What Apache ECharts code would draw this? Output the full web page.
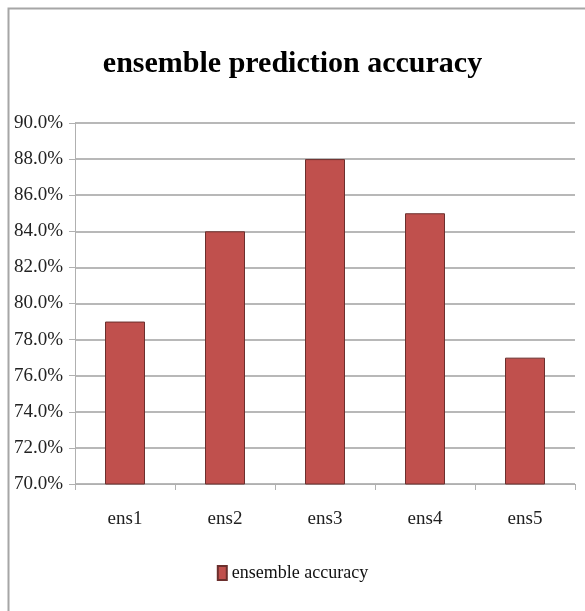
<!DOCTYPE html>
<html>
<head>
<meta charset="utf-8">
<script src="https://cdn.jsdelivr.net/npm/echarts@6/dist/echarts.min.js"></script>
<style>
html, body { margin: 0; padding: 0; background: #fff; }
#main { width: 585px; height: 611px; }
</style>
</head>
<body>
<div id="main"></div>
<script>
var categories = ["ens1", "ens2", "ens3", "ens4", "ens5"];
var accuracy = [79, 84, 88, 85, 77];
var seriesName = "ensemble accuracy";
var titleText = "ensemble prediction accuracy";

var chart = echarts.init(document.getElementById("main"));
var option = {
    backgroundColor: "#fff",
    animation: false,
    graphic: [{
        type: "rect",
        shape: { x: 8.5, y: 8.5, width: 700, height: 700 },
        style: { fill: "none", stroke: "#a6a6a6", lineWidth: 2 },
        z: -1
    }],
    title: {
        text: titleText,
        left: "center",
        top: 44,
        textStyle: {
            fontFamily: "Liberation Serif",
            fontWeight: "bold",
            fontSize: 30,
            color: "#000"
        }
    },
    legend: {
        data: [{ name: seriesName, icon: "rect" }],
        bottom: 24,
        left: "center",
        itemWidth: 9,
        itemHeight: 14,
        itemGap: 2,
        textStyle: {
            fontFamily: "Liberation Serif",
            fontSize: 18,
            color: "#111"
        }
    },
    grid: {
        left: 75,
        right: 10,
        top: 123,
        bottom: 127
    },
    xAxis: {
        type: "category",
        data: categories,
        axisLine: { lineStyle: { color: "#b0b0b0", width: 1 } },
        axisTick: { show: true, alignWithLabel: false, length: 6, lineStyle: { color: "#b0b0b0" } },
        axisLabel: {
            margin: 26,
            fontFamily: "Liberation Serif",
            fontSize: 19,
            color: "#222"
        }
    },
    yAxis: {
        type: "value",
        min: 70,
        max: 90,
        interval: 2,
        axisLine: { show: true, lineStyle: { color: "#b0b0b0", width: 1 } },
        axisTick: { show: true, length: 6, lineStyle: { color: "#b0b0b0" } },
        splitLine: { lineStyle: { color: "#b8b8b8", width: 2 } },
        axisLabel: {
            margin: 12,
            fontFamily: "Liberation Serif",
            fontSize: 19,
            color: "#222",
            formatter: function (v) { return v.toFixed(1) + "%"; }
        }
    },
    series: [{
        name: seriesName,
        type: "bar",
        data: accuracy,
        barWidth: "40%",
        itemStyle: {
            color: "#c0504d",
            borderColor: "#6b2f2d",
            borderWidth: 1
        }
    }]
};
chart.setOption(option);
</script>
</body>
</html>
